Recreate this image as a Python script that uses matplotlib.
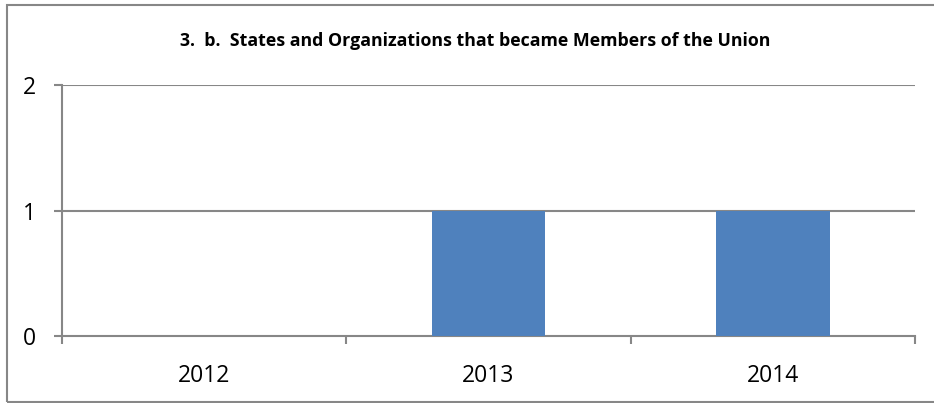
import matplotlib
matplotlib.use("Agg")
import matplotlib.pyplot as plt
from matplotlib.patches import Rectangle

title = "3.  b.  States and Organizations that became Members of the Union"
years = ["2012", "2013", "2014"]
members = [0, 1, 1]
y_ticks = [0, 1, 2]

bar_color = "#4F81BD"
line_color = "#878787"
font = "Open Sans"

fig = plt.figure(figsize=(9.34, 4.03), dpi=100)
fig.patch.set_facecolor("white")

# outer chart border (runs off the right edge)
fig.patches.append(Rectangle((7 / 934, 1 - 402 / 403), 1.2, (402 - 5) / 403,
                             transform=fig.transFigure, fill=False,
                             edgecolor=line_color, linewidth=1.5))

ax = fig.add_axes([62 / 934, 1 - 336 / 403, (915 - 62) / 934, (336 - 85) / 403])
x = list(range(len(years)))
ax.bar(x, members, width=0.4, color=bar_color, zorder=3)

ax.set_xlim(-0.5, len(years) - 0.5)
ax.set_ylim(0, 2)
ax.set_yticks(y_ticks)
ax.set_yticklabels([str(v) for v in y_ticks], fontsize=16.5, family=font)
ax.set_xticks(x)
ax.set_xticklabels(years, fontsize=16.5, family=font)
ax.set_xticks([i - 0.5 for i in range(len(years) + 1)], minor=True)

ax.tick_params(axis="x", which="major", length=0, pad=20)
ax.tick_params(axis="x", which="minor", length=6, width=1.5, color=line_color)
ax.tick_params(axis="y", length=6, width=1.5, color=line_color, pad=13)

for g in y_ticks[1:]:
    ax.axhline(g, color=line_color, linewidth=1.5, zorder=1)

for s in ["top", "right"]:
    ax.spines[s].set_visible(False)
for s in ["left", "bottom"]:
    ax.spines[s].set_color(line_color)
    ax.spines[s].set_linewidth(1.5)

fig.text(475 / 934, 1 - 41 / 403, title, ha="center", va="center",
         fontsize=12.8, fontweight="bold", family=font)

fig.savefig("out.png", dpi=100)
